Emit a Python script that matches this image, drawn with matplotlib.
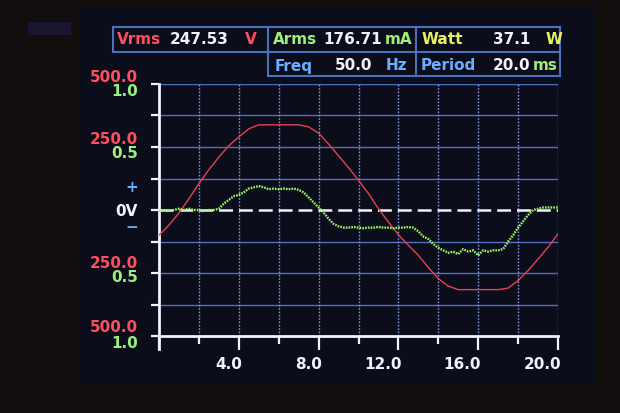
import matplotlib
matplotlib.use("Agg")
import matplotlib.pyplot as plt
import matplotlib.transforms as mtransforms
from matplotlib.patches import Rectangle
from matplotlib.lines import Line2D

plt.rcParams['lines.scale_dashes'] = False

# ---------------- data ----------------
red_t = [0.0, 0.5, 1.0, 1.5, 2.0, 2.5, 3.0, 3.5, 4.0, 4.5, 5.0, 5.5, 6.0, 6.5, 7.0,
         7.5, 8.0, 8.5, 9.0, 9.5, 10.0, 10.5, 11.0, 11.5, 12.0, 12.5, 13.0, 13.5, 14.0,
         14.5, 15.0, 15.5, 16.0, 16.5, 17.0, 17.5, 18.0, 18.5, 19.0, 19.5, 20.0]
red_v = [-100, -60, -12, 45, 105, 160, 210, 255, 290, 322, 338, 338, 338, 338, 338,
         330, 305, 262, 215, 168, 118, 65, 5, -48, -98, -140, -180, -228, -272,
         -302, -316, -316, -316, -316, -316, -310, -280, -240, -195, -148, -95]

green_t = [0.00, 0.25, 0.50, 0.75, 1.00, 1.25, 1.50, 1.75, 2.00, 2.25, 2.50, 2.75,
           3.00, 3.25, 3.50, 3.75, 4.00, 4.25, 4.50, 4.75, 5.00, 5.25, 5.50, 5.75,
           6.00, 6.25, 6.50, 6.75, 7.00, 7.25, 7.50, 7.75, 8.00, 8.25, 8.50, 8.75,
           9.00, 9.25, 9.50, 9.75, 10.00, 10.25, 10.50, 10.75, 11.00, 11.25, 11.50, 11.75,
           12.00, 12.25, 12.50, 12.75, 13.00, 13.25, 13.50, 13.75, 14.00, 14.25, 14.50, 14.75,
           15.00, 15.25, 15.50, 15.75, 16.00, 16.25, 16.50, 16.75, 17.00, 17.25, 17.50, 17.75,
           18.00, 18.25, 18.50, 18.75, 19.00, 19.25, 19.50, 19.75, 20.00]
green_a = [-0.01, 0.00, -0.01, 0.00, 0.01, 0.00, 0.01, 0.00, 0.00, -0.01, 0.00, 0.00,
           0.01, 0.05, 0.08, 0.11, 0.12, 0.14, 0.17, 0.18, 0.19, 0.18, 0.165, 0.17,
           0.165, 0.17, 0.165, 0.17, 0.16, 0.14, 0.10, 0.06, 0.02, -0.02, -0.07, -0.11,
           -0.13, -0.14, -0.14, -0.135, -0.14, -0.145, -0.14, -0.14, -0.135, -0.14, -0.14, -0.145,
           -0.14, -0.14, -0.135, -0.14, -0.17, -0.21, -0.23, -0.27, -0.30, -0.32, -0.34, -0.33,
           -0.35, -0.31, -0.33, -0.32, -0.36, -0.32, -0.33, -0.32, -0.32, -0.31, -0.25, -0.20,
           -0.14, -0.09, -0.04, 0.00, 0.01, 0.02, 0.02, 0.02, 0.02]

x_ticks_major = [0, 4, 8, 12, 16, 20]
x_ticks_minor = [2, 6, 10, 14, 18]
x_tick_labels = ['', '4.0', '8.0', '12.0', '16.0', '20.0']
y_grid = [-0.75, -0.5, -0.25, 0.25, 0.5, 0.75, 1.0]
v_full_scale = 500.0

header_row1 = [("Vrms", "247.53", "V"), ("Arms", "176.71", "mA"), ("Watt", "37.1", "W")]
header_row2 = [("Freq", "50.0", "Hz"), ("Period", "20.0", "ms")]

# ---------------- figure ----------------
W, H = 620, 413
fig = plt.figure(figsize=(6.2, 4.13), dpi=100, facecolor='#120e0d')

def fx(x):
    return x / W

def fy(y):
    return 1 - y / H

# screen
fig.patches.append(Rectangle((fx(80), fy(384)), (596 - 80) / W, (384 - 7) / H,
                             transform=fig.transFigure, facecolor='#0b0d1b',
                             edgecolor='none', zorder=-2))
fig.patches.append(Rectangle((fx(28), fy(35)), 43 / W, 13 / H,
                             transform=fig.transFigure, facecolor='#1a1530',
                             edgecolor='none', zorder=-2))

RED = '#ff4f5e'
WHITE = '#f2f2ff'
GREEN = '#9cf07a'
YELLOW = '#e6f060'
BLUE = '#6aaeff'
BORDER = '#4a70c0'

# header boxes
def hline(x0, x1, y):
    fig.lines.append(Line2D([fx(x0), fx(x1)], [fy(y), fy(y)], transform=fig.transFigure,
                            color=BORDER, lw=1.5))

def vline(x, y0, y1):
    fig.lines.append(Line2D([fx(x), fx(x)], [fy(y0), fy(y1)], transform=fig.transFigure,
                            color=BORDER, lw=1.5))

hline(113, 560, 27)
hline(113, 560, 52)
hline(268, 560, 76)
vline(113, 27, 52)
vline(268, 27, 76)
vline(416, 27, 76)
vline(560, 27, 76)

fs_h = 11
def htext(x, y, s, color, ha='left'):
    fig.text(fx(x), fy(y), s, color=color, fontsize=fs_h, fontweight='heavy',
             ha=ha, va='center')

# row 1
htext(117, 40, header_row1[0][0], RED)
htext(229, 40, header_row1[0][1], WHITE, ha='right')
htext(245, 40, header_row1[0][2], RED)
htext(273, 40, header_row1[1][0], GREEN)
htext(382, 40, header_row1[1][1], WHITE, ha='right')
htext(385, 40, header_row1[1][2], GREEN)
htext(422, 40, header_row1[2][0], YELLOW)
htext(530, 40, header_row1[2][1], WHITE, ha='right')
htext(546, 40, header_row1[2][2], YELLOW)
# row 2
htext(275, 66, header_row2[0][0], BLUE)
htext(372, 66, header_row2[0][1], WHITE, ha='right')
htext(386, 66, header_row2[0][2], BLUE)
htext(421, 66, header_row2[1][0], BLUE)
htext(530, 66, header_row2[1][1], WHITE, ha='right')
htext(533, 66, header_row2[1][2], GREEN)

# left labels
fs_l = 11
def ltext(y, s, color):
    fig.text(fx(138), fy(y), s, color=color, fontsize=fs_l, fontweight='heavy',
             ha='right', va='center')

ltext(77, "500.0", RED)
ltext(91, "1.0", GREEN)
ltext(139, "250.0", RED)
ltext(153, "0.5", GREEN)
ltext(188, "+", BLUE)
ltext(211, "0V", WHITE)
ltext(228, "\u2212", BLUE)
ltext(264, "250.0", RED)
ltext(278, "0.5", GREEN)
ltext(328, "500.0", RED)
ltext(344, "1.0", GREEN)

# ---------------- axes ----------------
x0p, x1p, y0p, y1p = 159, 558, 84, 336
ax = fig.add_axes([fx(x0p), fy(y1p), (x1p - x0p) / W, (y1p - y0p) / H])
ax.set_facecolor('none')
ax.set_xlim(0, 20)
ax.set_ylim(-1, 1)

for yv in y_grid:
    ax.axhline(yv, color='#4f6fc0', lw=1.0, zorder=1)
for xv in x_ticks_minor + x_ticks_major[1:]:
    ax.axvline(xv, color='#7d98e0', lw=1.0, ls=(0, (1.2, 1.2)), zorder=1)

ax.axhline(0, color=WHITE, lw=1.8, ls=(0, (10, 4.3)), zorder=2)

ax.plot(red_t, [v / v_full_scale for v in red_v], color='#e8404f', lw=1.0, zorder=3)
ax.plot(green_t, green_a, color='#98f46a', lw=1.7, ls=(0, (1.2, 0.8)), zorder=4)

for s in ['top', 'right']:
    ax.spines[s].set_visible(False)
for s in ['left', 'bottom']:
    ax.spines[s].set_color(WHITE)
    ax.spines[s].set_linewidth(2)
ax.spines['left'].set_bounds(-1.1, 1)

ax.set_yticks([-1.0] + y_grid + [0.0])
ax.set_yticklabels([])
ax.tick_params(axis='y', direction='out', length=6, width=1.6, color=WHITE)

ax.set_xticks(x_ticks_major)
ax.set_xticks(x_ticks_minor, minor=True)
ax.set_xticklabels(x_tick_labels)
ax.tick_params(axis='x', which='major', direction='out', length=10, width=1.6,
               color=WHITE, labelcolor=WHITE, labelsize=11, pad=5)
ax.tick_params(axis='x', which='minor', direction='out', length=6, width=1.6, color=WHITE)
shift = mtransforms.ScaledTranslation(3 / 100, 0, fig.dpi_scale_trans)
for lab in ax.get_xticklabels():
    lab.set_fontweight('heavy')
    lab.set_ha('right')
    lab.set_transform(lab.get_transform() + shift)

fig.savefig('out.png', dpi=100, facecolor=fig.get_facecolor())
